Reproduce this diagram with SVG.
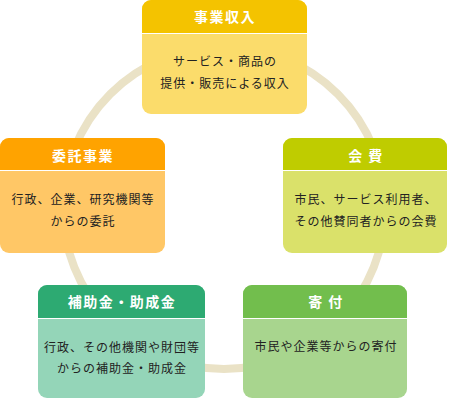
<svg xmlns="http://www.w3.org/2000/svg" width="449" height="400" viewBox="0 0 449 400">
<style>
.hd{font-family:"Noto Sans CJK JP","Noto Sans",sans-serif;font-size:14px;font-weight:bold;fill:#fff;text-anchor:middle;letter-spacing:1.5px}
.bd{font-family:"Noto Sans CJK JP","Noto Sans",sans-serif;font-size:12px;fill:#222;text-anchor:middle;letter-spacing:1px}
.sep{stroke:#fff;stroke-width:1.2}
</style>
<g id="connectors">
<circle cx="224" cy="208" r="161" fill="none" stroke="#EAE2C6" stroke-width="8"/>
</g>
<g id="node-jigyo">
<rect x="142" y="0" width="165" height="114" rx="9" fill="#FBDC6B"/>
<path d="M142,9 a9,9 0 0 1 9,-9 h147 a9,9 0 0 1 9,9 v24 h-165 z" fill="#F4C300"/>
<line class="sep" x1="142" y1="33.5" x2="307" y2="33.5"/>
<text class="hd" x="225" y="22">事業収入</text>
<text class="bd" x="225" y="66">サービス・商品の</text>
<text class="bd" x="225" y="88">提供・販売による収入</text>
</g>
<g id="node-itaku">
<rect x="0" y="138" width="165" height="115" rx="9" fill="#FFC766"/>
<path d="M0,147 a9,9 0 0 1 9,-9 h147 a9,9 0 0 1 9,9 v23 h-165 z" fill="#FFA300"/>
<line class="sep" x1="0" y1="170.5" x2="165" y2="170.5"/>
<text class="hd" x="83" y="161">委託事業</text>
<text class="bd" x="83" y="204">行政、企業、研究機関等</text>
<text class="bd" x="83" y="226">からの委託</text>
</g>
<g id="node-kaihi">
<rect x="283" y="138" width="164" height="115" rx="9" fill="#DAE16A"/>
<path d="M283,147 a9,9 0 0 1 9,-9 h146 a9,9 0 0 1 9,9 v23 h-164 z" fill="#BFCC00"/>
<line class="sep" x1="283" y1="170.5" x2="447" y2="170.5"/>
<text class="hd" x="366" y="161">会 費</text>
<text class="bd" x="366" y="204">市民、サービス利用者、</text>
<text class="bd" x="366" y="226">その他賛同者からの会費</text>
</g>
<g id="node-hojo">
<rect x="38" y="285" width="167" height="113" rx="9" fill="#94D5B8"/>
<path d="M38,294 a9,9 0 0 1 9,-9 h149 a9,9 0 0 1 9,9 v24 h-167 z" fill="#2DAA72"/>
<line class="sep" x1="38" y1="318.5" x2="205" y2="318.5"/>
<text class="hd" x="122" y="307">補助金・助成金</text>
<text class="bd" x="122" y="352">行政、その他機関や財団等</text>
<text class="bd" x="122" y="373">からの補助金・助成金</text>
</g>
<g id="node-kifu">
<rect x="243" y="285" width="164" height="113" rx="9" fill="#A8D58E"/>
<path d="M243,294 a9,9 0 0 1 9,-9 h146 a9,9 0 0 1 9,9 v24 h-164 z" fill="#72BE4D"/>
<line class="sep" x1="243" y1="318.5" x2="407" y2="318.5"/>
<text class="hd" x="326" y="307">寄 付</text>
<text class="bd" x="326" y="351">市民や企業等からの寄付</text>
</g>
</svg>
